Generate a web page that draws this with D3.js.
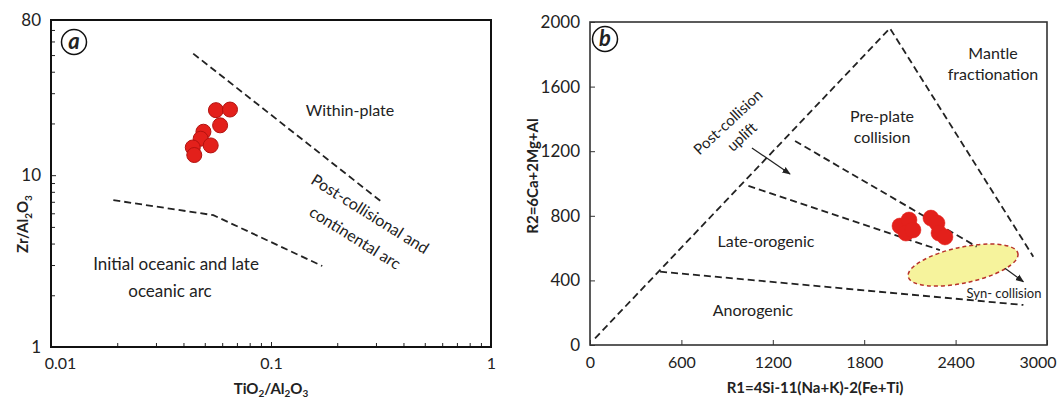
<!DOCTYPE html>
<html>
<head>
<meta charset="utf-8">
<script src="https://cdn.jsdelivr.net/npm/d3@7"></script>
<style>
  body { margin: 0; background: #fff; }
  text { font-family: Lato, 'Noto Sans', sans-serif; fill: #222; }
</style>
</head>
<body>
<script>
const width = 1059;
const height = 400;

// Panel a: Zr/Al2O3 vs TiO2/Al2O3 (log-log)
const aTiO2 = [0.0562, 0.0651, 0.0587, 0.0493, 0.0479, 0.0532, 0.0441, 0.0448];
const aZr = [23.9, 24.1, 19.5, 17.9, 16.3, 14.9, 14.5, 13.1];
const aXTicks = [0.01, 0.1, 1];
const aXTickLabels = ['0.01', '0.1', '1'];
const aYTicks = [1, 10, 80];
const aYTickLabels = ['1', '10', '80'];
// boundary lines
const aUpperX = [0.0443, 0.318];
const aUpperY = [51, 7.0];
const aLowerX = [0.0192, 0.0547, 0.171];
const aLowerY = [7.16, 5.85, 2.96];

// Panel b: R1-R2
const bR1 = [2035, 2094, 2074, 2120, 2238, 2278, 2291, 2330];
const bR2 = [737, 774, 693, 712, 786, 755, 693, 669];
const bXTicks = [0, 600, 1200, 1800, 2400, 3000];
const bYTicks = [0, 400, 800, 1200, 1600, 2000];
const bLines = [
  [[33, 41], [1969, 1961], [2910, 547]],
  [[1346, 1263], [2538, 609]],
  [[1040, 985], [2297, 588]],
  [[460, 454], [2845, 248]]
];
const bArrows = [
  [[1063, 1220], [1313, 1059]],
  [[2724, 475], [2845, 392]]
];
const synField = { r1: 2449, r2: 495, dr1: 368, dr2: 111, angle: -12 };

let svg = d3.select('body').append('svg')
  .attr('width', width).attr('height', height);

svg.append('defs').append('marker')
  .attr('id', 'arrow').attr('viewBox', '0 0 10 10')
  .attr('refX', 9).attr('refY', 5)
  .attr('markerWidth', 7).attr('markerHeight', 7)
  .attr('orient', 'auto')
  .append('path').attr('d', 'M0,1 L10,5 L0,9 z').attr('fill', '#222');

const dash = '7,4';

// ---------- panel a ----------
let xA = d3.scaleLog().domain([0.01, 1]).range([51, 491]);
let yA = d3.scaleLog().domain([1, 80]).range([347, 20]);

let pa = svg.append('g');

let xMinorA = [];
[0.01, 0.1].forEach((d) => { for (let k = 2; k <= 9; k++) xMinorA.push(d * k); });
let yMinorA = [];
[1, 10].forEach((d) => { for (let k = 2; k <= 9; k++) if (d * k < 80) yMinorA.push(d * k); });

pa.append('g')
  .attr('transform', `translate(0, ${yA(1)})`)
  .call(d3.axisBottom(xA).tickValues(xMinorA).tickSize(-4).tickFormat(''))
  .call((g) => g.select('.domain').remove());
pa.append('g')
  .attr('transform', `translate(0, ${yA(1)})`)
  .call(d3.axisBottom(xA).tickValues(aXTicks).tickSize(-5).tickPadding(11)
    .tickFormat((d, i) => aXTickLabels[i]))
  .call((g) => g.select('.domain').remove())
  .call((g) => g.selectAll('text').attr('font-size', 16).attr('font-family', 'Lato'))
  .call((g) => g.select('.tick text').attr('dx', 9));

pa.append('g')
  .attr('transform', `translate(${xA(0.01)}, 0)`)
  .call(d3.axisLeft(yA).tickValues(yMinorA).tickSize(-4).tickFormat(''))
  .call((g) => g.select('.domain').remove());
pa.append('g')
  .attr('transform', `translate(${xA(0.01)}, 0)`)
  .call(d3.axisLeft(yA).tickValues(aYTicks).tickSize(-5).tickPadding(10)
    .tickFormat((d, i) => aYTickLabels[i]))
  .call((g) => g.select('.domain').remove())
  .call((g) => g.selectAll('text').attr('font-size', 17)
    .attr('font-family', (d) => d === 1 ? 'Lato' : 'Liberation Serif'));

pa.selectAll('.tick line').attr('stroke', '#222');
pa.selectAll('.tick text').attr('fill', '#222');

pa.append('rect')
  .attr('x', xA(0.01)).attr('y', yA(80))
  .attr('width', xA(1) - xA(0.01)).attr('height', yA(1) - yA(80))
  .attr('fill', 'none').attr('stroke', '#111').attr('stroke-width', 2);

let lineA = d3.line().x((d) => xA(d[0])).y((d) => yA(d[1]));
pa.append('path').attr('d', lineA(d3.zip(aUpperX, aUpperY)))
  .attr('fill', 'none').attr('stroke', '#222').attr('stroke-width', 1.8).attr('stroke-dasharray', dash);
pa.append('path').attr('d', lineA(d3.zip(aLowerX, aLowerY)))
  .attr('fill', 'none').attr('stroke', '#222').attr('stroke-width', 1.8).attr('stroke-dasharray', dash);

pa.selectAll('circle.pt').data(d3.zip(aTiO2, aZr)).join('circle')
  .attr('class', 'pt')
  .attr('cx', (d) => xA(d[0])).attr('cy', (d) => yA(d[1])).attr('r', 7.5)
  .attr('fill', '#e3201b').attr('stroke', '#b3120f').attr('stroke-width', 1);

pa.append('text').attr('x', 350).attr('y', 110).attr('dy', '0.35em')
  .attr('text-anchor', 'middle').attr('font-size', 16).text('Within-plate');
pa.append('text').attr('text-anchor', 'middle').attr('font-size', 16)
  .attr('transform', 'translate(370, 214) rotate(32)')
  .selectAll('tspan').data(['Post-collisional and', 'continental arc']).join('tspan')
  .attr('x', 0).attr('y', (d, i) => i * 28).attr('dy', '0.35em').text((d) => d);
pa.append('text').attr('text-anchor', 'middle').attr('font-size', 17)
  .selectAll('tspan').data(['Initial oceanic and late', 'oceanic arc']).join('tspan')
  .attr('x', (d, i) => i ? 170 : 176).attr('y', (d, i) => 264 + i * 27).attr('dy', '0.35em').text((d) => d);

let aTitle = pa.append('text').attr('text-anchor', 'middle').attr('font-weight', 'bold')
  .attr('font-size', 15).attr('x', 271).attr('y', 394);
aTitle.append('tspan').text('TiO');
aTitle.append('tspan').attr('font-size', 10).attr('dy', 3).text('2');
aTitle.append('tspan').attr('dy', -3).text('/Al');
aTitle.append('tspan').attr('font-size', 10).attr('dy', 3).text('2');
aTitle.append('tspan').attr('dy', -3).text('O');
aTitle.append('tspan').attr('font-size', 10).attr('dy', 3).text('3');

let aYTitle = pa.append('text').attr('text-anchor', 'middle').attr('font-weight', 'bold')
  .attr('font-size', 15).attr('transform', 'translate(28, 224) rotate(-90)');
aYTitle.append('tspan').text('Zr/Al');
aYTitle.append('tspan').attr('font-size', 10).attr('dy', 4).text('2');
aYTitle.append('tspan').attr('dy', -4).text('O');
aYTitle.append('tspan').attr('font-size', 10).attr('dy', 4).text('3');

// ---------- panel b ----------
let xB = d3.scaleLinear().domain([0, 3000]).range([590, 1047]);
let yB = d3.scaleLinear().domain([0, 2000]).range([345, 22]);

let pb = svg.append('g');

pb.append('g')
  .attr('transform', `translate(${xB(0)}, 0)`)
  .call(d3.axisLeft(yB).tickValues(bYTicks).tickSize(-5).tickPadding(10).tickFormat(d3.format('d')))
  .call((g) => g.select('.domain').remove())
  .call((g) => g.selectAll('.tick text').attr('font-size', 17));
pb.append('g')
  .attr('transform', `translate(0, ${yB(0)})`)
  .call(d3.axisBottom(xB).tickValues(bXTicks).tickSize(-5).tickPadding(12).tickFormat(d3.format('d')))
  .call((g) => g.select('.domain').remove())
  .call((g) => g.selectAll('.tick text').attr('font-size', 16))
  .call((g) => g.selectAll('.tick text').filter((d) => d === 3000)
    .attr('text-anchor', 'end').attr('dx', 9));
pb.selectAll('.tick text').attr('font-family', 'Lato').attr('fill', '#222');
pb.selectAll('.tick line').attr('stroke', '#333');

pb.append('rect')
  .attr('x', xB(0)).attr('y', yB(2000))
  .attr('width', xB(3000) - xB(0)).attr('height', yB(0) - yB(2000))
  .attr('fill', 'none').attr('stroke', '#333').attr('stroke-width', 1.6);

// syn-collision field
let ecx = xB(synField.r1), ecy = yB(synField.r2);
pb.append('ellipse')
  .attr('cx', 0).attr('cy', 0)
  .attr('rx', xB(synField.r1 + synField.dr1) - ecx)
  .attr('ry', ecy - yB(synField.r2 + synField.dr2))
  .attr('transform', `translate(${ecx}, ${ecy}) rotate(${synField.angle})`)
  .attr('fill', '#f6f39c').attr('stroke', '#b8322a').attr('stroke-width', 1.5)
  .attr('stroke-dasharray', '4,3');

let lineB = d3.line().x((d) => xB(d[0])).y((d) => yB(d[1]));
pb.selectAll('path.bound').data(bLines).join('path')
  .attr('class', 'bound').attr('d', lineB)
  .attr('fill', 'none').attr('stroke', '#222').attr('stroke-width', 1.8).attr('stroke-dasharray', dash);

pb.selectAll('path.arr').data(bArrows).join('path')
  .attr('class', 'arr').attr('d', lineB)
  .attr('fill', 'none').attr('stroke', '#222').attr('stroke-width', 1.2)
  .attr('marker-end', 'url(#arrow)');

pb.selectAll('circle.pt').data(d3.zip(bR1, bR2)).join('circle')
  .attr('class', 'pt')
  .attr('cx', (d) => xB(d[0])).attr('cy', (d) => yB(d[1])).attr('r', 8)
  .attr('fill', '#e3201b').attr('stroke', '#e3201b').attr('stroke-width', 0.5);

function label(g, x, y, lines, size, rot) {
  let t = g.append('text').attr('text-anchor', 'middle').attr('font-size', size)
    .attr('transform', `translate(${x}, ${y}) rotate(${rot || 0})`);
  t.selectAll('tspan').data(lines).join('tspan')
    .attr('x', 0).attr('y', (d, i) => i * size * 1.35).attr('dy', '0.35em').text((d) => d);
}
label(pb, 993, 53, ['Mantle', 'fractionation'], 16);
label(pb, 882, 116, ['Pre-plate', 'collision'], 16);
label(pb, 766, 241, ['Late-orogenic'], 16);
label(pb, 753, 310, ['Anorogenic'], 16);
label(pb, 1004, 293, ['Syn- collision'], 13);
label(pb, 728, 122, ['Post-collision', 'uplift'], 15, -43);

pb.append('text').attr('text-anchor', 'middle').attr('font-weight', 'bold')
  .attr('font-size', 15).attr('x', 815).attr('y', 393).text('R1=4Si-11(Na+K)-2(Fe+Ti)');
pb.append('text').attr('text-anchor', 'middle').attr('font-weight', 'bold')
  .attr('font-size', 15).attr('transform', 'translate(533, 176) rotate(-90)')
  .attr('dy', '0.35em').text('R2=6Ca+2Mg+Al');

// panel tags
[[74, 42, 'a'], [605, 39, 'b']].forEach(([x, y, s]) => {
  svg.append('circle').attr('cx', x).attr('cy', y).attr('r', 12.5)
    .attr('fill', '#fff').attr('stroke', '#111').attr('stroke-width', 1.5);
  svg.append('text').attr('x', x).attr('y', y).attr('dy', '0.33em')
    .attr('text-anchor', 'middle').attr('font-family', 'Liberation Serif')
    .attr('font-style', 'italic').attr('font-weight', 'bold').attr('font-size', 22)
    .text(s);
});
</script>
</body>
</html>
